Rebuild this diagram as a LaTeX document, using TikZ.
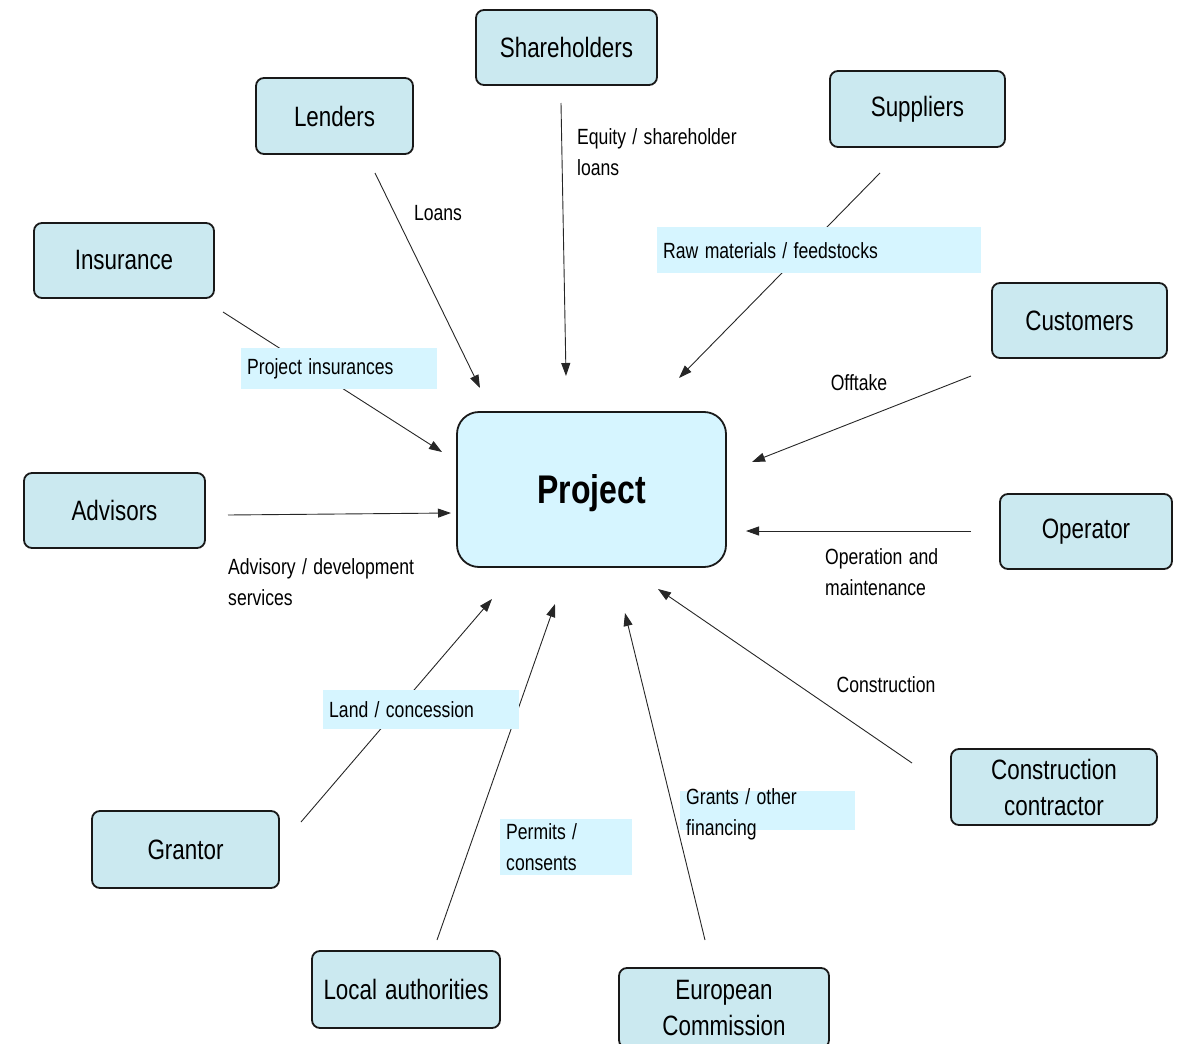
\documentclass[tikz,border=0pt]{standalone}
\usepackage{fontspec}
\setmainfont{Liberation Sans}[FakeStretch=0.8, WordSpace=1.3]
\usepackage{xcolor}
\definecolor{partyfill}{RGB}{203,233,240}
\definecolor{projfill}{RGB}{214,245,255}
\definecolor{hlfill}{RGB}{214,245,255}
\usetikzlibrary{arrows.meta, positioning}

\tikzset{
  party/.style={draw=black!90, line width=1.8pt, fill=partyfill, rounded corners=8pt,
    align=center, inner sep=0pt, font=\fontsize{28}{36}\selectfont},
  flow/.style={-{Triangle[length=13pt,width=9pt]}, line width=0.9pt, black!85},
  lbl/.style={inner sep=0pt, align=flush left, font=\fontsize{22}{31}\selectfont},
  hl/.style={lbl, fill=hlfill, inner xsep=6pt, anchor=north west},
}

\begin{document}
\begin{tikzpicture}[x=1pt, y=-1pt]
  \useasboundingbox (0,0) rectangle (1179,1044);

  % central node
  \node[party, fill=projfill, rounded corners=22pt, minimum width=269pt, minimum height=155pt,
        text depth=0pt, font=\fontsize{40}{48}\selectfont\bfseries] (project) at (591.5,489.5) {Project};

  % parties round the project
  \node[party, minimum width=181pt, minimum height=75pt] (shareholders) at (566.5,47.5) {Shareholders};
  \node[party, minimum width=157pt, minimum height=76pt] (lenders) at (334.5,116) {Lenders};
  \node[party, minimum width=175pt, minimum height=76pt] (suppliers) at (917.5,109) {Suppliers};
  \node[party, minimum width=180pt, minimum height=75pt] (insurance) at (124,260.5) {Insurance};
  \node[party, minimum width=175pt, minimum height=75pt] (customers) at (1079.5,320.5) {Customers};
  \node[party, minimum width=181pt, minimum height=75pt] (advisors) at (114.5,510.5) {Advisors};
  \node[party, minimum width=172pt, minimum height=75pt] (operator) at (1086,531.5) {Operator};
  \node[party, minimum width=206pt, minimum height=76pt] (contractor) at (1054,787) {Construction\\contractor};
  \node[party, minimum width=187pt, minimum height=77pt] (grantor) at (185.5,849.5) {Grantor};
  \node[party, minimum width=188pt, minimum height=77pt] (localauth) at (406,989.5) {Local authorities};
  \node[party, minimum width=210pt, minimum height=80pt] (commission) at (724,1008) {European\\Commission};

  % connector ends
  \coordinate (lenders-out) at (375,173);      \coordinate (lenders-in) at (480,388);
  \coordinate (share-out) at (561,103);        \coordinate (share-in) at (566,376);
  \coordinate (suppliers-out) at (880,173);    \coordinate (suppliers-in) at (679,378);
  \coordinate (insurance-out) at (223,312);    \coordinate (insurance-in) at (442,452);
  \coordinate (customers-out) at (971,376);    \coordinate (customers-in) at (752,462);
  \coordinate (advisors-out) at (228,515);     \coordinate (advisors-in) at (451,513);
  \coordinate (operator-out) at (971,531);     \coordinate (operator-in) at (746,531);
  \coordinate (contractor-out) at (912,763);   \coordinate (contractor-in) at (658,589);
  \coordinate (grantor-out) at (301,822);      \coordinate (grantor-in) at (492,599);
  \coordinate (localauth-out) at (437,940);    \coordinate (localauth-in) at (555,604);
  \coordinate (commission-out) at (705,940);   \coordinate (commission-in) at (625,613);

  % flows into the project
  \foreach \p in {lenders, suppliers, insurance, customers, advisors, operator,
                  contractor, grantor, localauth, commission}
    \draw[flow] (\p-out) -- (\p-in);
  \draw[flow] (share-out) -- (share-in);

  % flow labels
  \node[lbl] (loans) at (438,213) {Loans};
  \node[lbl, anchor=west] (equity) at (577,152) {Equity / shareholder\\loans};
  \node[hl, text width=312pt, minimum height=46pt] (rawmat) at (657,227) {Raw materials / feedstocks};
  \node[hl, text width=184pt, minimum height=41pt] (projins) at (241,348) {Project insurances};
  \node[lbl] (offtake) at (859,383) {Offtake};
  \node[lbl, anchor=west] (advisory) at (228,582) {Advisory / development\\services};
  \node[lbl, anchor=west] (om) at (825,572) {Operation and\\maintenance};
  \node[lbl] (construction) at (886,685) {Construction};
  \node[hl, text width=184pt, minimum height=39pt] (land) at (323,690) {Land / concession};
  \node[hl, text width=120pt, minimum height=56pt] (permits) at (500,819) {Permits /\\consents};
  \node[hl, minimum width=175pt, minimum height=39pt] (grantsbg) at (680,791) {};
  \node[lbl, anchor=west] (grants) at (686,814) {Grants / other\\financing};
\end{tikzpicture}
\end{document}
